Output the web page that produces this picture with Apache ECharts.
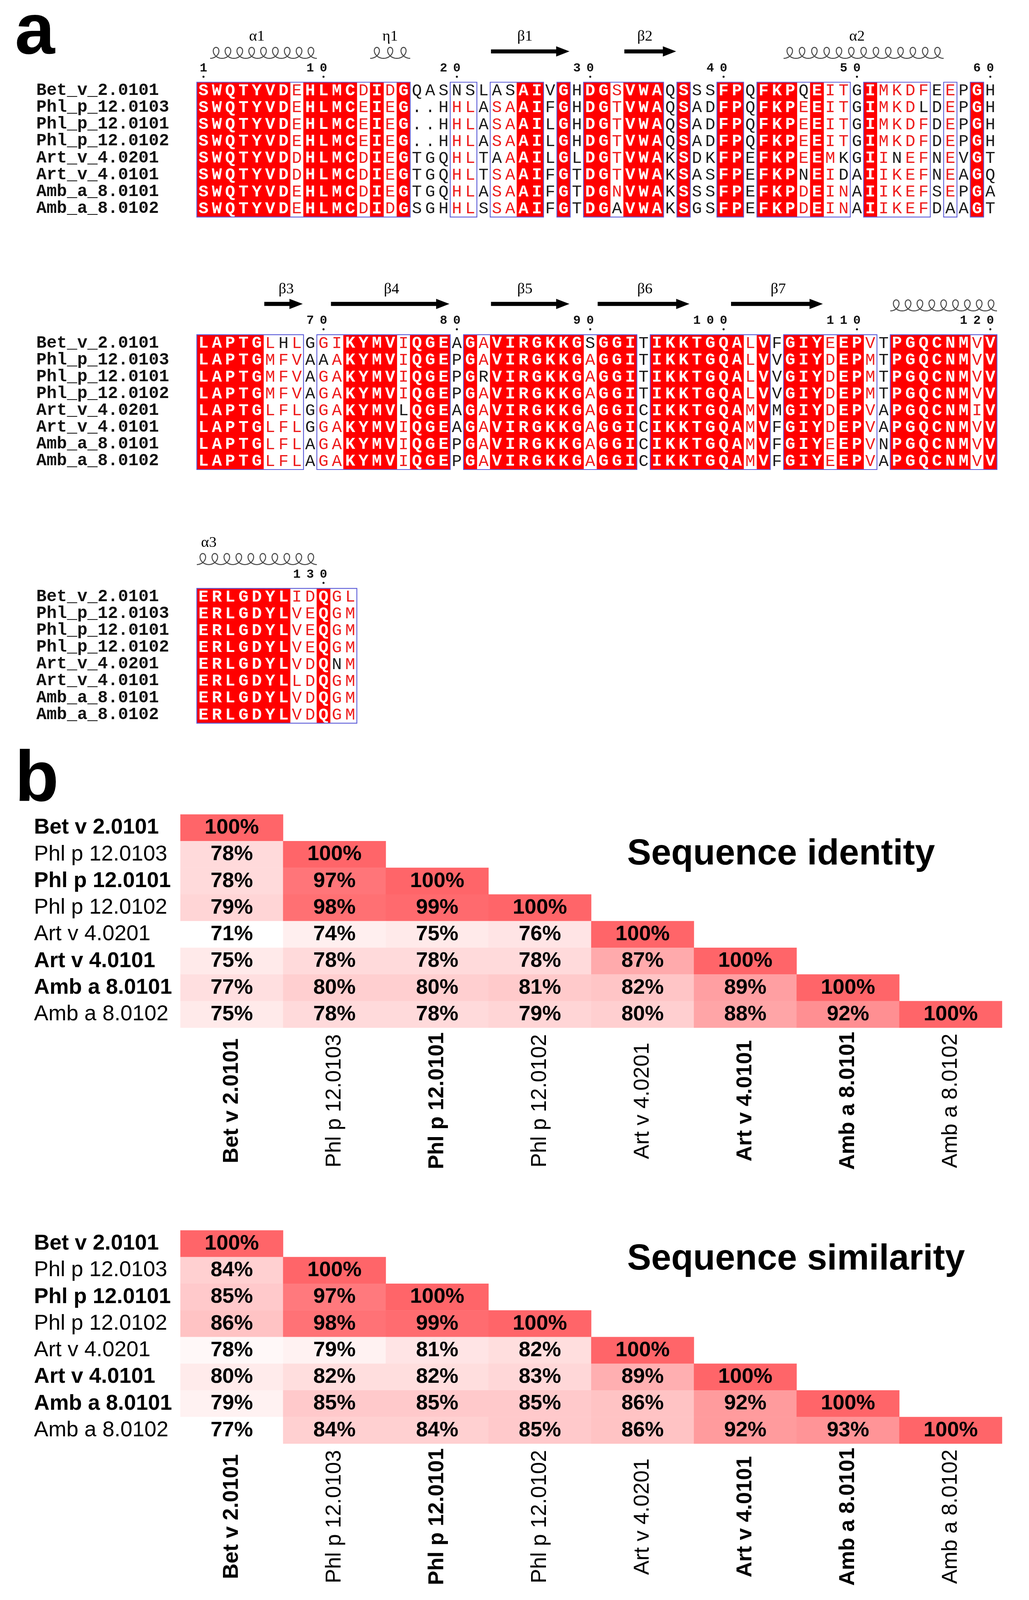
<!DOCTYPE html>
<html><head><meta charset="utf-8">
<script src="https://cdn.jsdelivr.net/npm/echarts@6/dist/echarts.min.js"></script>
<style>html,body{margin:0;padding:0;background:#fff;overflow:hidden}#c{width:2635px;height:4359px}</style>
</head><body><div id="c"></div>
<script>
// ---------------- DATA ----------------
const alignNames = ['Bet_v_2.0101','Phl_p_12.0103','Phl_p_12.0101','Phl_p_12.0102','Art_v_4.0201','Art_v_4.0101','Amb_a_8.0101','Amb_a_8.0102'];
const alignSequences = [
  'SWQTYVDEHLMCDIDGQASNSLASAIVGHDGSVWAQSSSFPQFKPQEITGIMKDFEEPGH' + 'LAPTGLHLGGIKYMVIQGEAGAVIRGKKGSGGITIKKTGQALVFGIYEEPVTPGQCNMVV' + 'ERLGDYLIDQGL',
  'SWQTYVDEHLMCEIEG..HHLASAAIFGHDGTVWAQSADFPQFKPEEITGIMKDLDEPGH' + 'LAPTGMFVAAAKYMVIQGEPGAVIRGKKGAGGITIKKTGQALVVGIYDEPMTPGQCNMVV' + 'ERLGDYLVEQGM',
  'SWQTYVDEHLMCEIEG..HHLASAAILGHDGTVWAQSADFPQFKPEEITGIMKDFDEPGH' + 'LAPTGMFVAGAKYMVIQGEPGRVIRGKKGAGGITIKKTGQALVVGIYDEPMTPGQCNMVV' + 'ERLGDYLVEQGM',
  'SWQTYVDEHLMCEIEG..HHLASAAILGHDGTVWAQSADFPQFKPEEITGIMKDFDEPGH' + 'LAPTGMFVAGAKYMVIQGEPGAVIRGKKGAGGITIKKTGQALVVGIYDEPMTPGQCNMVV' + 'ERLGDYLVEQGM',
  'SWQTYVDDHLMCDIEGTGQHLTAAAILGLDGTVWAKSDKFPEFKPEEMKGIINEFNEVGT' + 'LAPTGLFLGGAKYMVLQGEAGAVIRGKKGAGGICIKKTGQAMVMGIYDEPVAPGQCNMIV' + 'ERLGDYLVDQNM',
  'SWQTYVDDHLMCDIEGTGQHLTSAAIFGTDGTVWAKSASFPEFKPNEIDAIIKEFNEAGQ' + 'LAPTGLFLGGAKYMVIQGEAGAVIRGKKGAGGICIKKTGQAMVFGIYDEPVAPGQCNMVV' + 'ERLGDYLLDQGM',
  'SWQTYVDEHLMCDIEGTGQHLASAAIFGTDGNVWAKSSSFPEFKPDEINAIIKEFSEPGA' + 'LAPTGLFLAGAKYMVIQGEPGAVIRGKKGAGGICIKKTGQAMVFGIYEEPVNPGQCNMVV' + 'ERLGDYLVDQGM',
  'SWQTYVDEHLMCDIDGSGHHLSSAAIFGTDGAVWAKSGSFPEFKPDEINAIIKEFDAAGT' + 'LAPTGLFLAGAKYMVIQGEPGAVIRGKKGAGGICIKKTGQAMVFGIYEEPVAPGQCNMVV' + 'ERLGDYLVDQGM'
];
// I = strictly identical column, S = similar column, . = not conserved
const conservation =
  'IIIIIIISII' + 'IISISI...S' + 'S.SSII.I.I' + 'ISIII.I..I' + 'I.IIISISS.' + 'ISSSS.S.I.' +
  'IIIIISSS.S' + 'SIIIISIII.' + 'ISIIIIIIIS' + 'III.IIIIII' + 'ISI.IIISII' + 'S.IIIIIISI' +
  'IIIIIIISSISS';
// residues (column, row) in similar columns that are not part of the similar group
const dissimilar = [[20,0],[21,0],[23,0],[23,4],[24,0],[32,7],[46,0],[46,5],[49,4],[49,5],[53,4],[55,1],[57,7],
  [67,0],[70,1],[76,4],[82,2],[90,0],[131,4]];
const alignBlocks = [[1,60],[61,120],[121,132]];
const numberTicks = [1,10,20,30,40,50,60,70,80,90,100,110,120,130];
const strands = [
  {name:'β1',from:23,to:28,labelAt:25.1},{name:'β2',from:33,to:36,labelAt:34.1},
  {name:'β3',from:66,to:68,labelAt:67.2},{name:'β4',from:71,to:79,labelAt:75.1},
  {name:'β5',from:83,to:88,labelAt:85.1},{name:'β6',from:91,to:97,labelAt:94.1},
  {name:'β7',from:101,to:107,labelAt:104.1}
];
const helices = [
  {name:'α1',from:2,to:9,labelAt:5},{name:'η1',from:14,to:16,labelAt:15},
  {name:'α2',from:45,to:56,labelAt:50},{name:'',from:113,to:120,labelAt:116.5},
  {name:'α3',from:121,to:129,labelAt:121.4}
];

const allergens = ['Bet v 2.0101','Phl p 12.0103','Phl p 12.0101','Phl p 12.0102','Art v 4.0201','Art v 4.0101','Amb a 8.0101','Amb a 8.0102'];
const boldAllergens = ['Bet v 2.0101','Phl p 12.0101','Art v 4.0101','Amb a 8.0101'];
const identity = [
  [100],
  [78,100],
  [78,97,100],
  [79,98,99,100],
  [71,74,75,76,100],
  [75,78,78,78,87,100],
  [77,80,80,81,82,89,100],
  [75,78,78,79,80,88,92,100]
];
const similarity = [
  [100],
  [84,100],
  [85,97,100],
  [86,98,99,100],
  [78,79,81,82,100],
  [80,82,82,83,89,100],
  [79,85,85,85,86,92,100],
  [77,84,84,85,86,92,93,100]
];

// ---------------- CHART ----------------
const W = 2635;
const H = Math.min(4359, window.innerHeight || 4359);
const ky = H / 4359;            // vertical fit factor when the viewport is shorter than the figure
const fk = Math.sqrt(ky);       // gentle font scale
document.getElementById('c').style.height = H + 'px';

const MONO = "'Courier New','Liberation Mono',monospace";
const SERIF = "'Times New Roman','Liberation Serif',serif";
const SANS = "Arial,'Liberation Sans',sans-serif";
const CW = 34.15, RH = 45.9 * ky;
const dissSet = new Set(dissimilar.map(d => d[0] + ':' + d[1]));
const fs = v => Math.round(v * fk * 10) / 10;

function txt(text, x, y, font, fill, align, valign) {
  return {type:'text', style:{text, x, y, font, fill, textAlign:align, textVerticalAlign:valign, align, verticalAlign:valign}};
}

function cellItem(params, api) {
  const col = api.value(0), row = api.value(1);
  const p = api.coord([col, row]); const s = api.size([1, 1]);
  const ch = alignSequences[row][col - 1];
  const cls = conservation[col - 1];
  const kids = [];
  let fill = '#1a1a1a', weight = 'normal';
  if (cls === 'I') {
    kids.push({type:'rect', shape:{x:p[0]-s[0]/2-0.5, y:p[1]-s[1]/2-0.5, width:s[0]+1, height:s[1]+1}, style:{fill:'#ff0000'}});
    fill = '#ffffff'; weight = 'bold';
  } else if (cls === 'S' && !dissSet.has(col + ':' + row)) {
    fill = '#ee1c1c';
  }
  kids.push(txt(ch, p[0], p[1] + 1, weight + ' ' + fs(44) + 'px ' + MONO, fill, 'center', 'middle'));
  return {type:'group', children:kids};
}
function boxItem(params, api) {
  const s = api.size([1, 1]);
  const a = api.coord([api.value(0), 0]), b = api.coord([api.value(1), alignNames.length - 1]);
  return {type:'rect', shape:{x:a[0]-s[0]/2, y:a[1]-s[1]/2, width:b[0]-a[0]+s[0], height:b[1]-a[1]+s[1]},
    style:{fill:null, stroke:'#5a5ad8', lineWidth:2.2}};
}
function strandItemFactory(list) {
  return function (params, api) {
    const d = list[params.dataIndex];
    const s = api.size([1, 1]);
    const a = api.coord([d.from, 0]), b = api.coord([d.to, 0]);
    const top = a[1] - s[1] / 2;
    const x1 = a[0] - s[0] / 2 + 2, x2 = b[0] + s[0] / 2 - 2, yc = top - 84 * ky;
    const hl = 34, hh = 14 * ky, bh = 5.5 * ky;
    const lab = api.coord([d.labelAt, 0])[0];
    return {type:'group', children:[
      {type:'polygon', shape:{points:[[x1,yc-bh],[x2-hl,yc-bh],[x2-hl,yc-hh],[x2,yc],[x2-hl,yc+hh],[x2-hl,yc+bh],[x1,yc+bh]]}, style:{fill:'#000'}},
      txt(d.name, lab, top - 124 * ky, fs(40) + 'px ' + SERIF, '#000', 'center', 'middle')
    ]};
  };
}
function helixItemFactory(list) {
  return function (params, api) {
    const d = list[params.dataIndex];
    const s = api.size([1, 1]);
    const a = api.coord([d.from, 0]), b = api.coord([d.to, 0]);
    const top = a[1] - s[1] / 2;
    const x1 = a[0] - s[0] / 2, x2 = b[0] + s[0] / 2, yc = top - 80 * ky;
    const n = Math.max(1, Math.round((x2 - x1) / 31));
    const r = (x2 - x1) / (2 * Math.PI * n), dx = 14, dy = 15 * ky;
    const pts = [];
    const steps = n * 48;
    for (let k = 0; k <= steps; k++) {
      const T = Math.PI + (2 * Math.PI * n) * k / steps;
      pts.push([x1 + r * (T - Math.PI) - dx * Math.sin(T), yc - dy * Math.cos(T)]);
    }
    const kids = [{type:'polyline', shape:{points:pts}, style:{stroke:'#4a4a4a', lineWidth:2.6, fill:null}}];
    if (d.name) {
      const lab = api.coord([d.labelAt, 0])[0];
      kids.push(txt(d.name, lab, top - 124 * ky, fs(40) + 'px ' + SERIF, '#000', 'center', 'middle'));
    }
    return {type:'group', children:kids};
  };
}
function tickItem(params, api) {
  const v = api.value(0);
  const s = api.size([1, 1]);
  const str = String(v);
  const top = api.coord([v, 0])[1] - s[1] / 2;
  const kids = [];
  for (let k = 0; k < str.length; k++) {
    const c = v - (str.length - 1) + k;
    kids.push(txt(str[k], api.coord([c, 0])[0], top - 38 * ky, 'bold ' + fs(33) + 'px ' + MONO, '#111', 'center', 'middle'));
  }
  kids.push({type:'circle', shape:{cx:api.coord([v, 0])[0], cy:top - 15 * ky, r:2.6}, style:{fill:'#111'}});
  return {type:'group', children:kids};
}

const grids = [], xAxes = [], yAxes = [], series = [];
const blockTops = [224, 912, 1603];
alignBlocks.forEach((blk, b) => {
  const [st, en] = blk;
  grids.push({left:504, top:blockTops[b] * ky, width:(en - st + 1) * CW, height:alignNames.length * RH, outerBoundsMode:'none'});
  xAxes.push({type:'value', gridIndex:b, min:st - 0.5, max:en + 0.5, show:false});
  yAxes.push({type:'category', gridIndex:b, data:alignNames, inverse:true,
    axisLine:{show:false}, axisTick:{show:false}, splitLine:{show:false},
    axisLabel:{interval:0, align:'left', margin:411, fontFamily:MONO, fontWeight:'bold', fontSize:fs(45), color:'#111'}});
  const cells = [];
  for (let c = st; c <= en; c++) for (let r = 0; r < alignNames.length; r++) cells.push([c, r]);
  series.push({type:'custom', xAxisIndex:b, yAxisIndex:b, renderItem:cellItem, data:cells, encode:{x:0, y:1}, silent:true, clip:false});
  const runs = [];
  let rs = null;
  for (let c = st; c <= en + 1; c++) {
    const on = c <= en && conservation[c - 1] !== '.';
    if (on && rs === null) rs = c;
    if (!on && rs !== null) { runs.push([rs, c - 1, 0]); rs = null; }
  }
  series.push({type:'custom', xAxisIndex:b, yAxisIndex:b, renderItem:boxItem, data:runs, encode:{x:[0,1], y:2}, silent:true, clip:false, z:5});
  const sl = strands.filter(d => d.from >= st && d.to <= en);
  series.push({type:'custom', xAxisIndex:b, yAxisIndex:b, renderItem:strandItemFactory(sl), data:sl.map(d => [d.from, d.to, 0]), encode:{x:[0,1], y:2}, silent:true, clip:false});
  const hl = helices.filter(d => d.from >= st && d.to <= en);
  series.push({type:'custom', xAxisIndex:b, yAxisIndex:b, renderItem:helixItemFactory(hl), data:hl.map(d => [d.from, d.to, 0]), encode:{x:[0,1], y:2}, silent:true, clip:false});
  const tk = numberTicks.filter(v => v >= st && v <= en).map(v => [v, 0]);
  series.push({type:'custom', xAxisIndex:b, yAxisIndex:b, renderItem:tickItem, data:tk, encode:{x:0, y:1}, silent:true, clip:false});
});

function triData(m) { const out = []; m.forEach((row, i) => row.forEach((v, j) => out.push([j, i, v]))); return out; }
const richLab = {b:{fontFamily:SANS, fontWeight:'bold', fontSize:fs(57), color:'#000'}, n:{fontFamily:SANS, fontWeight:'normal', fontSize:fs(57), color:'#000'}};
const labFmt = v => boldAllergens.indexOf(v) >= 0 ? '{b|' + v + '}' : '{n|' + v + '}';
const heatTops = [2219, 3352];
const heatSets = [identity, similarity];
const heatSeriesIdx = [];
heatSets.forEach((m, h) => {
  const gi = 3 + h;
  grids.push({left:462, top:heatTops[h] * ky, width:2104, height:581 * ky, outerBoundsMode:'none'});
  xAxes.push({type:'category', gridIndex:gi, data:allergens, axisLine:{show:false}, axisTick:{show:false}, splitLine:{show:false},
    axisLabel:{interval:0, rotate:90, align:'center', verticalAlign:'middle', margin:199 * ky, formatter:labFmt, rich:richLab}});
  yAxes.push({type:'category', gridIndex:gi, data:allergens, inverse:true, axisLine:{show:false}, axisTick:{show:false}, splitLine:{show:false},
    axisLabel:{interval:0, align:'left', margin:375, formatter:labFmt, rich:richLab}});
  heatSeriesIdx.push(series.length);
  series.push({type:'heatmap', xAxisIndex:gi, yAxisIndex:gi, data:triData(m), silent:true,
    itemStyle:{borderWidth:0},
    emphasis:{disabled:true},
    label:{show:true, formatter:p => p.value[2] + '%', fontFamily:SANS, fontWeight:'bold', fontSize:fs(56), color:'#000'}});
});

const flat = m => [].concat(...m);
const visualMap = heatSets.map((m, h) => ({type:'continuous', show:false, seriesIndex:heatSeriesIdx[h], dimension:2,
  min:Math.min(...flat(m)), max:Math.max(...flat(m)), inRange:{color:['#ffffff', '#ff6569']}}));

const chart = echarts.init(document.getElementById('c'), null, {renderer:'canvas', width:W, height:H});
chart.setOption({
  animation:false,
  backgroundColor:'#ffffff',
  grid:grids, xAxis:xAxes, yAxis:yAxes, series, visualMap,
  graphic:[
    txt('a', 38, 92 * ky, 'bold ' + fs(190) + 'px ' + SANS, '#000', 'left', 'middle'),
    txt('b', 38, 2128 * ky, 'bold ' + fs(190) + 'px ' + SANS, '#000', 'left', 'middle'),
    txt('Sequence identity', 1606, 2328 * ky, 'bold ' + fs(95) + 'px ' + SANS, '#000', 'left', 'middle'),
    txt('Sequence similarity', 1606, 3432 * ky, 'bold ' + fs(95) + 'px ' + SANS, '#000', 'left', 'middle')
  ]
});
</script></body></html>
